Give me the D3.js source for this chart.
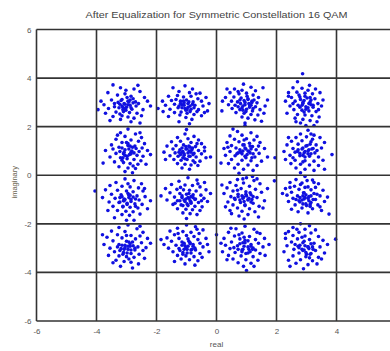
<!DOCTYPE html>
<html>
<head>
<meta charset="utf-8">
<script src="https://cdn.jsdelivr.net/npm/d3@7"></script>
<style>
  body { margin: 0; background: #fff; }
  svg { display: block; font-family: "Liberation Sans", Arial, sans-serif; }
</style>
</head>
<body>
<div id="chart"></div>
<script>
const title = 'After Equalization for Symmetric Constellation 16 QAM';
const gridValues = [-6, -4, -2, 0, 2, 4, 6];
const xTickLabels = [-6, -4, -2, 0, 2, 4];   // the 6 label falls outside the frame
const yTickLabels = [-6, -4, -2, 0, 2, 4, 6];

// received symbols [real, imaginary], grouped by constellation row
const rowTop = [
  [-3.45,3.72],[-3.20,3.60],[-2.75,3.55],[-2.55,3.45],[-3.62,3.40],[-3.30,3.30],[-3.05,3.35],[-2.85,3.25],[-2.40,3.20],[-2.30,3.05],[-3.50,3.10],[-3.15,3.12],[-2.95,3.05],[-2.70,3.02],[-3.75,2.90],[-3.40,2.95],[-3.05,2.92],[-2.88,2.88],[-2.60,2.95],[-2.20,2.85],[-3.95,2.70],[-3.60,2.75],[-3.25,2.78],[-3.00,2.80],[-2.82,2.72],[-2.45,2.70],[-3.70,2.55],[-3.35,2.60],[-3.10,2.62],[-2.90,2.58],[-2.65,2.55],[-3.45,2.42],[-3.15,2.45],[-2.95,2.40],[-2.75,2.35],[-3.55,2.25],[-3.20,2.30],[-2.85,2.20],[-2.55,2.15],[-3.02,3.50],[-2.62,3.70],[-3.85,3.05],[-2.50,2.45],[-3.28,3.00],[-2.78,3.15],[-3.12,2.70],[-2.98,3.20],[-3.40,2.82],[-2.68,2.85],[-3.22,2.52],
  [-3.08,2.95],[-2.92,3.02],[-3.15,2.85],[-2.85,2.78],[-3.02,2.68],[-3.18,3.08],[-2.78,2.98],[-3.05,2.75],[-2.95,2.90],[-3.22,2.92],[-2.88,3.10],[-3.12,2.80],
  [-1.45,3.60],[-1.05,3.68],[-0.80,3.55],[-1.25,3.45],[-0.90,3.40],[-0.55,3.38],[-1.60,3.25],[-1.30,3.28],[-1.10,3.22],[-0.85,3.25],[-0.62,3.15],[-0.35,3.20],[-1.80,3.05],[-1.50,3.08],[-1.20,3.05],[-1.00,3.10],[-0.78,3.02],[-0.50,3.05],[-0.25,2.95],[-1.70,2.88],[-1.40,2.92],[-1.15,2.90],[-0.95,2.95],[-0.72,2.88],[-0.45,2.85],[-1.95,2.75],[-1.55,2.72],[-1.28,2.78],[-1.05,2.75],[-0.85,2.72],[-0.60,2.70],[-0.30,2.65],[-1.40,2.58],[-1.18,2.60],[-0.98,2.55],[-0.75,2.50],[-0.50,2.45],[-1.60,2.42],[-1.02,2.38],[-0.82,2.30],[-1.25,2.20],[-0.90,2.12],[-0.65,2.62],[-1.35,3.12],[-0.88,2.85],[-1.08,2.98],[-0.68,3.35],[-1.22,2.48],[-0.40,2.58],[-1.78,2.62],
  [-1.08,2.88],[-0.92,3.02],[-1.15,2.78],[-0.80,2.92],[-1.02,2.68],[-0.88,2.62],[-1.20,2.95],[-0.95,2.80],[-0.75,2.78],[-1.10,3.05],[-1.25,2.85],[-0.98,2.70],
  [0.90,3.75],[1.15,3.62],[0.60,3.55],[0.85,3.50],[1.30,3.48],[1.55,3.60],[0.45,3.40],[0.75,3.35],[1.00,3.38],[1.22,3.30],[0.30,3.20],[0.58,3.22],[0.82,3.18],[1.05,3.15],[1.40,3.20],[0.20,3.05],[0.50,3.05],[0.70,3.02],[0.95,3.00],[1.18,3.05],[1.35,2.98],[0.18,2.65],[0.40,2.90],[0.62,2.88],[0.88,2.85],[1.10,2.90],[1.30,2.82],[1.62,2.85],[0.52,2.75],[0.78,2.70],[1.00,2.72],[1.20,2.65],[1.45,2.70],[0.65,2.58],[0.92,2.55],[1.15,2.50],[1.38,2.48],[0.85,2.40],[1.05,2.35],[1.28,2.28],[1.50,2.22],[0.95,2.15],[1.70,3.10],[0.35,3.55],[1.10,2.80],[0.72,3.45],[1.25,3.10],[0.80,2.95],[1.58,2.55],[1.02,3.25],
  [0.92,3.08],[1.08,2.95],[0.85,2.78],[1.15,2.88],[0.98,2.62],[0.78,3.10],[1.22,2.75],[0.95,2.90],[1.05,3.12],[0.88,2.68],[1.18,3.00],[0.72,2.82],
  [2.87,4.18],[2.70,3.85],[3.10,3.70],[2.55,3.60],[2.85,3.58],[3.30,3.55],[2.40,3.40],[2.68,3.42],[2.95,3.38],[3.20,3.35],[3.45,3.40],[2.50,3.20],[2.78,3.22],[3.02,3.18],[3.28,3.15],[2.30,3.05],[2.62,3.05],[2.88,3.00],[3.12,3.02],[3.38,2.95],[2.45,2.85],[2.72,2.88],[2.98,2.82],[3.22,2.80],[3.50,2.85],[2.58,2.70],[2.85,2.68],[3.08,2.65],[3.32,2.62],[2.35,2.55],[2.70,2.50],[2.95,2.48],[3.18,2.45],[3.42,2.40],[2.62,2.35],[2.88,2.30],[3.12,2.25],[3.35,2.20],[2.80,2.15],[3.25,2.05],[2.40,3.25],[3.55,3.10],[2.92,2.60],[3.05,3.50],[2.55,2.95],[3.15,2.90],[2.75,3.30],[3.40,2.70],[2.98,2.05],[2.65,2.20],
  [2.92,3.08],[3.08,2.95],[2.85,2.88],[3.15,3.10],[2.98,2.72],[2.80,3.12],[3.22,2.88],[2.95,3.25],[3.05,2.78],[2.88,2.95],[3.12,3.20],[2.78,2.80]
];
const rowUpper = [
  [-2.95,1.90],[-3.20,1.75],[-2.70,1.70],[-3.05,1.60],[-2.50,1.55],[-3.35,1.48],[-2.85,1.45],[-2.60,1.40],[-3.15,1.35],[-2.40,1.30],[-3.50,1.25],[-2.95,1.22],[-2.72,1.20],[-3.25,1.15],[-2.48,1.12],[-3.70,1.02],[-3.05,1.05],[-2.82,1.00],[-2.58,0.98],[-2.30,1.02],[-3.35,0.90],[-3.10,0.88],[-2.90,0.85],[-2.65,0.82],[-2.45,0.78],[-3.55,0.75],[-3.20,0.72],[-2.98,0.68],[-2.75,0.65],[-2.52,0.60],[-3.40,0.55],[-3.10,0.52],[-2.88,0.48],[-2.62,0.45],[-3.25,0.35],[-2.95,0.30],[-2.70,0.28],[-3.05,0.15],[-2.80,0.10],[-2.20,0.85],[-3.78,0.50],[-2.35,0.45],[-3.00,1.35],[-2.55,1.75],[-3.30,1.65],[-2.85,0.95],[-3.15,0.62],[-2.68,1.10],[-3.45,1.08],[-2.78,0.38],
  [-2.92,1.08],[-3.08,0.95],[-2.85,0.88],[-3.15,1.12],[-2.98,0.78],[-2.80,1.15],[-3.22,0.98],[-2.95,1.30],[-3.05,0.82],[-2.88,1.20],[-3.12,0.72],[-2.75,0.92],
  [-1.05,1.70],[-0.75,1.60],[-1.30,1.55],[-0.95,1.50],[-0.60,1.45],[-1.50,1.38],[-1.20,1.40],[-0.85,1.35],[-0.50,1.30],[-1.65,1.20],[-1.35,1.22],[-1.10,1.25],[-0.92,1.20],[-0.70,1.18],[-0.40,1.15],[-1.45,1.08],[-1.22,1.05],[-1.02,1.08],[-0.82,1.05],[-0.60,1.02],[-1.75,0.95],[-1.38,0.92],[-1.15,0.95],[-0.95,0.92],[-0.75,0.90],[-0.50,0.88],[-1.55,0.80],[-1.28,0.78],[-1.08,0.82],[-0.88,0.78],[-0.68,0.75],[-0.35,0.72],[-1.42,0.65],[-1.18,0.62],[-0.98,0.65],[-0.78,0.60],[-0.55,0.58],[-1.30,0.48],[-1.05,0.45],[-0.85,0.42],[-0.62,0.40],[-1.15,0.30],[-0.90,0.25],[-0.20,0.75],[-1.70,0.65],[-1.00,1.88],[-0.65,1.30],[-1.25,0.95],[-0.88,1.15],[-1.12,0.72],[-0.72,0.52],[-0.40,1.00],
  [-0.98,1.08],[-1.08,0.88],[-0.85,0.95],[-1.15,1.12],[-0.92,0.78],[-0.80,1.12],[-1.20,0.85],[-1.02,1.18],[-0.90,1.00],[-1.12,0.98],[-0.78,0.85],[-1.05,0.68],
  [0.95,2.05],[0.70,1.80],[1.15,1.75],[0.45,1.62],[0.85,1.65],[1.35,1.60],[0.60,1.48],[1.00,1.50],[1.25,1.45],[0.35,1.35],[0.75,1.38],[1.10,1.32],[1.45,1.35],[0.50,1.22],[0.88,1.25],[1.20,1.18],[0.25,1.10],[0.65,1.12],[0.98,1.08],[1.32,1.05],[1.60,1.10],[0.45,0.98],[0.80,0.95],[1.12,0.92],[1.42,0.90],[0.30,0.82],[0.62,0.80],[0.95,0.78],[1.28,0.75],[0.50,0.65],[0.85,0.62],[1.15,0.60],[1.50,0.58],[0.40,0.48],[0.72,0.45],[1.05,0.42],[1.35,0.40],[0.60,0.30],[0.90,0.25],[1.22,0.20],[0.15,0.50],[0.75,0.08],[1.70,0.75],[0.55,1.90],[1.05,1.00],[0.92,1.45],[0.68,0.88],[1.18,0.72],[0.38,1.15],[1.40,1.20],
  [0.95,1.12],[1.08,0.98],[0.85,0.88],[1.15,1.08],[0.98,0.72],[0.78,1.05],[1.22,0.88],[0.92,1.25],[1.02,0.85],[0.88,1.00],[1.12,1.20],[0.72,0.92],
  [3.05,1.85],[2.80,1.70],[3.25,1.65],[2.65,1.55],[3.00,1.58],[3.45,1.55],[2.50,1.40],[2.85,1.42],[3.15,1.38],[3.60,1.35],[2.35,1.25],[2.72,1.28],[3.02,1.22],[3.32,1.25],[2.55,1.10],[2.88,1.12],[3.18,1.08],[3.50,1.12],[2.25,0.98],[2.62,0.95],[2.95,0.98],[3.28,0.92],[3.85,0.85],[2.45,0.82],[2.78,0.80],[3.10,0.78],[3.40,0.75],[2.30,0.65],[2.62,0.62],[2.95,0.60],[3.25,0.58],[3.55,0.62],[2.48,0.48],[2.80,0.45],[3.10,0.42],[3.40,0.40],[2.65,0.30],[2.95,0.25],[3.25,0.20],[2.80,0.10],[3.60,0.25],[1.95,0.72],[2.40,1.55],[3.20,1.48],[2.72,1.05],[3.05,0.88],[2.55,0.72],[3.35,1.02],[2.88,0.55],[3.15,1.70],
  [2.92,0.92],[3.08,1.05],[2.85,1.08],[3.15,0.88],[2.98,1.20],[2.78,0.90],[3.22,1.10],[2.95,0.75],[3.05,1.00],[2.88,0.82],[3.12,1.28],[2.70,0.98]
];
const rowLower = [
  [-3.05,-0.15],[-2.75,-0.22],[-3.35,-0.30],[-2.50,-0.35],[-3.55,-0.42],[-3.15,-0.45],[-2.88,-0.48],[-2.60,-0.52],[-3.70,-0.60],[-3.30,-0.62],[-3.00,-0.65],[-2.78,-0.68],[-2.45,-0.65],[-3.50,-0.78],[-3.18,-0.80],[-2.92,-0.82],[-2.65,-0.85],[-2.38,-0.88],[-3.80,-0.92],[-3.38,-0.95],[-3.08,-0.98],[-2.85,-1.00],[-2.58,-1.02],[-3.58,-1.10],[-3.25,-1.12],[-2.98,-1.15],[-2.72,-1.18],[-2.48,-1.20],[-3.45,-1.28],[-3.12,-1.30],[-2.88,-1.32],[-2.62,-1.35],[-2.30,-1.38],[-3.30,-1.45],[-3.02,-1.48],[-2.78,-1.50],[-3.15,-1.62],[-2.90,-1.65],[-2.55,-1.60],[-3.40,-1.75],[-2.75,-1.85],[-4.05,-0.65],[-2.20,-1.05],[-3.62,-1.45],[-2.95,-0.35],[-3.22,-0.92],[-2.70,-1.28],[-3.10,-1.05],[-2.40,-0.55],[-3.00,-1.85],
  [-2.92,-0.92],[-3.08,-1.05],[-2.85,-1.08],[-3.15,-0.88],[-2.98,-1.20],[-2.78,-0.90],[-3.22,-1.10],[-2.95,-0.75],[-3.05,-1.00],[-2.88,-0.82],[-3.12,-1.28],[-2.70,-0.98],
  [-0.95,-0.10],[-0.65,-0.20],[-1.25,-0.25],[-0.40,-0.30],[-1.50,-0.38],[-1.05,-0.40],[-0.80,-0.42],[-0.55,-0.48],[-1.70,-0.55],[-1.32,-0.58],[-1.10,-0.60],[-0.90,-0.62],[-0.68,-0.65],[-0.35,-0.60],[-1.55,-0.72],[-1.22,-0.75],[-1.00,-0.78],[-0.78,-0.80],[-0.52,-0.82],[-1.40,-0.90],[-1.15,-0.92],[-0.92,-0.95],[-0.70,-0.98],[-0.42,-0.95],[-1.65,-1.02],[-1.30,-1.05],[-1.05,-1.08],[-0.85,-1.10],[-0.60,-1.12],[-0.30,-1.08],[-1.45,-1.20],[-1.18,-1.22],[-0.95,-1.25],[-0.72,-1.28],[-0.48,-1.30],[-1.30,-1.38],[-1.02,-1.40],[-0.80,-1.42],[-0.55,-1.45],[-1.12,-1.55],[-0.88,-1.58],[-0.65,-1.62],[-0.20,-0.75],[-1.85,-0.85],[-1.00,-1.78],[-0.62,-0.35],[-1.20,-0.50],[-0.85,-0.88],[-1.38,-1.15],[-0.50,-1.05],
  [-0.95,-0.92],[-1.08,-1.02],[-0.85,-1.15],[-1.15,-0.85],[-0.98,-1.18],[-0.78,-0.92],[-1.22,-1.05],[-0.92,-0.75],[-1.02,-0.98],[-0.88,-1.05],[-1.12,-1.25],[-0.72,-1.00],
  [1.00,-0.10],[0.70,-0.18],[1.25,-0.22],[0.45,-0.30],[0.90,-0.32],[1.45,-0.35],[0.65,-0.42],[1.10,-0.45],[0.35,-0.52],[0.82,-0.55],[1.30,-0.58],[0.55,-0.65],[0.98,-0.68],[1.50,-0.70],[0.25,-0.75],[0.72,-0.78],[1.15,-0.80],[0.48,-0.88],[0.90,-0.90],[1.35,-0.92],[0.62,-1.00],[1.05,-1.02],[1.60,-1.05],[0.38,-1.10],[0.80,-1.12],[1.22,-1.15],[0.55,-1.22],[0.95,-1.25],[1.42,-1.28],[0.70,-1.35],[1.10,-1.38],[0.45,-1.45],[0.85,-1.48],[1.28,-1.50],[1.05,-1.62],[0.75,-1.68],[1.40,-1.72],[0.92,-1.80],[0.18,-0.40],[1.70,-0.55],[1.20,-0.05],[0.60,-0.95],[1.00,-0.85],[0.30,-1.30],[1.55,-1.35],[0.88,-0.15],[0.70,-0.62],[1.18,-1.00],[0.50,-1.58],[1.35,-0.15],[1.93,-0.23],
  [0.92,-1.08],[1.08,-0.95],[0.85,-0.85],[1.15,-1.10],[0.98,-0.78],[0.78,-1.02],[1.22,-0.88],[0.95,-1.22],[1.05,-1.00],[0.88,-0.95],[1.12,-0.72],[0.72,-0.88],
  [2.95,-0.05],[2.65,-0.18],[3.20,-0.20],[2.45,-0.30],[2.85,-0.32],[3.40,-0.35],[2.60,-0.45],[3.05,-0.48],[3.30,-0.50],[2.30,-0.55],[2.75,-0.58],[3.15,-0.60],[3.55,-0.62],[2.50,-0.70],[2.90,-0.72],[3.25,-0.75],[2.35,-0.82],[2.70,-0.85],[3.08,-0.88],[3.45,-0.85],[2.55,-0.95],[2.92,-0.98],[3.30,-1.00],[2.40,-1.08],[2.78,-1.10],[3.15,-1.12],[3.60,-1.08],[2.62,-1.22],[3.00,-1.25],[3.38,-1.22],[2.85,-1.35],[3.20,-1.38],[2.50,-1.40],[3.50,-1.45],[2.72,-1.50],[3.05,-1.55],[3.75,-1.60],[2.95,-0.50],[2.20,-0.75],[3.70,-0.90],[2.80,-0.38],[3.35,-0.78],[2.65,-1.00],[3.12,-1.28],[2.45,-0.50],[2.98,-0.80],[3.25,-0.30],[2.88,-1.18],[3.45,-1.30],[3.02,-0.22],
  [2.95,-0.92],[3.08,-1.05],[2.85,-1.02],[3.15,-0.85],[2.98,-1.18],[2.78,-0.92],[3.22,-1.00],[2.92,-0.72],[3.05,-0.95],[2.88,-0.85],[3.12,-1.20],[2.75,-1.05]
];
const rowBottom = [
  [-2.95,-2.05],[-3.25,-2.15],[-2.65,-2.20],[-3.50,-2.30],[-3.05,-2.32],[-2.45,-2.35],[-3.30,-2.45],[-2.85,-2.48],[-2.55,-2.50],[-3.65,-2.55],[-3.15,-2.58],[-2.70,-2.62],[-2.30,-2.60],[-3.45,-2.70],[-3.00,-2.72],[-2.80,-2.75],[-2.50,-2.78],[-3.75,-2.85],[-3.25,-2.85],[-3.05,-2.88],[-2.88,-2.92],[-2.62,-2.95],[-2.35,-2.98],[-3.55,-3.00],[-3.18,-3.02],[-2.95,-3.05],[-2.72,-3.08],[-2.45,-3.10],[-3.40,-3.15],[-3.10,-3.18],[-2.85,-3.22],[-2.58,-3.25],[-3.60,-3.30],[-3.25,-3.32],[-3.00,-3.35],[-2.75,-3.38],[-2.40,-3.42],[-3.35,-3.50],[-3.08,-3.55],[-2.85,-3.58],[-2.60,-3.65],[-3.20,-3.75],[-2.80,-3.82],[-3.80,-2.45],[-2.20,-2.80],[-3.00,-2.48],[-3.30,-2.95],[-2.92,-3.45],[-2.55,-2.10],[-3.45,-3.60],
  [-2.95,-2.92],[-3.08,-3.05],[-2.85,-3.08],[-3.15,-2.88],[-2.98,-3.20],[-2.78,-2.90],[-3.22,-3.10],[-2.92,-2.75],[-3.05,-2.98],[-2.88,-2.82],[-3.12,-3.25],[-2.72,-3.00],
  [-1.00,-2.05],[-0.70,-2.12],[-1.30,-2.18],[-0.45,-2.25],[-1.55,-2.30],[-1.12,-2.32],[-0.85,-2.35],[-0.58,-2.40],[-1.40,-2.45],[-1.00,-2.48],[-0.75,-2.52],[-1.65,-2.58],[-1.25,-2.60],[-0.95,-2.62],[-0.62,-2.65],[-0.35,-2.60],[-1.50,-2.72],[-1.15,-2.75],[-0.88,-2.78],[-0.55,-2.80],[-1.75,-2.85],[-1.35,-2.88],[-1.05,-2.90],[-0.78,-2.92],[-0.45,-2.95],[-1.60,-3.00],[-1.25,-3.02],[-0.98,-3.05],[-0.70,-3.08],[-1.45,-3.15],[-1.12,-3.18],[-0.85,-3.20],[-0.55,-3.22],[-0.25,-3.15],[-1.30,-3.30],[-1.02,-3.32],[-0.75,-3.35],[-0.48,-3.38],[-1.18,-3.45],[-0.90,-3.48],[-0.62,-3.52],[-1.05,-3.65],[-0.72,-3.70],[-0.30,-2.85],[-1.85,-2.65],[-1.40,-3.55],[-0.65,-2.22],[-1.08,-2.80],[-0.82,-3.05],[-1.28,-2.40],
  [-0.95,-2.92],[-1.08,-3.05],[-0.85,-3.08],[-1.15,-2.88],[-0.98,-3.20],[-0.78,-2.85],[-1.22,-3.10],[-0.92,-2.72],[-1.02,-2.98],[-0.88,-2.82],[-1.12,-3.25],[-0.72,-3.00],
  [0.95,-2.10],[0.65,-2.20],[1.25,-2.22],[0.40,-2.35],[0.85,-2.38],[1.45,-2.40],[0.60,-2.50],[1.10,-2.52],[0.25,-2.60],[0.78,-2.62],[1.30,-2.65],[1.60,-2.60],[0.50,-2.75],[0.95,-2.78],[1.40,-2.80],[0.30,-2.88],[0.70,-2.90],[1.15,-2.92],[1.55,-2.95],[0.45,-3.02],[0.88,-3.05],[1.30,-3.08],[0.20,-3.15],[0.62,-3.18],[1.05,-3.20],[1.45,-3.22],[0.40,-3.30],[0.82,-3.32],[1.22,-3.35],[0.55,-3.45],[0.98,-3.48],[1.38,-3.50],[0.72,-3.60],[1.15,-3.62],[0.90,-3.75],[0.00,-2.45],[1.75,-2.85],[0.75,-2.45],[1.05,-2.70],[0.58,-2.98],[1.20,-3.05],[0.35,-3.48],[1.62,-3.30],[0.85,-3.15],[0.15,-2.80],[1.00,-3.92],[1.35,-2.35],[0.48,-2.18],[1.25,-3.75],[0.92,-2.55],
  [0.92,-2.92],[1.08,-3.05],[0.85,-3.08],[1.15,-2.85],[0.98,-3.22],[0.78,-2.82],[1.22,-3.00],[0.95,-2.68],[1.05,-2.95],[0.88,-2.78],[1.12,-3.15],[0.72,-3.05],
  [2.80,-2.00],[3.10,-2.08],[2.55,-2.15],[2.95,-2.22],[3.30,-2.25],[2.40,-2.32],[2.75,-2.35],[3.15,-2.38],[2.55,-2.48],[2.95,-2.50],[3.40,-2.52],[3.97,-2.63],[2.30,-2.60],[2.70,-2.62],[3.10,-2.65],[3.55,-2.68],[2.50,-2.75],[2.88,-2.78],[3.25,-2.80],[2.35,-2.90],[2.72,-2.92],[3.05,-2.95],[3.45,-2.95],[2.58,-3.05],[2.92,-3.08],[3.30,-3.10],[2.25,-3.15],[2.75,-3.20],[3.15,-3.22],[3.60,-3.20],[2.55,-3.32],[2.98,-3.35],[3.40,-3.38],[2.40,-3.50],[2.80,-3.48],[3.20,-3.52],[2.65,-3.62],[3.05,-3.68],[2.30,-2.40],[3.50,-3.45],[2.85,-2.55],[3.20,-2.95],[2.62,-2.85],[3.00,-3.25],[2.45,-3.75],[3.35,-3.65],[2.90,-3.85],[3.70,-2.85],[2.68,-2.22],[3.10,-3.40],
  [2.95,-2.90],[3.08,-3.02],[2.85,-3.05],[3.15,-2.82],[2.98,-3.18],[2.78,-2.88],[3.22,-3.05],[2.92,-2.72],[3.05,-2.95],[2.88,-3.10],[3.12,-3.25],[2.75,-2.98]
];

const width = 390, height = 351;
const margin = { top: 29.5, left: 36.5 };
const plotW = 360, plotH = 291.5;

const svg = d3.select('#chart').append('svg')
  .attr('width', width)
  .attr('height', height);

const x = d3.scaleLinear().domain([-6, 6]).range([margin.left, margin.left + plotW]);
const y = d3.scaleLinear().domain([-6, 6]).range([margin.top + plotH, margin.top]);

const points = [...rowTop, ...rowUpper, ...rowLower, ...rowBottom];

svg.append('g')
  .selectAll('circle')
  .data(points)
  .join('circle')
  .attr('cx', d => x(d[0]))
  .attr('cy', d => y(d[1]))
  .attr('r', 1.8)
  .attr('fill', '#1010e0');

// grid, drawn on top of the points like the original
const grid = svg.append('g').attr('stroke', '#333').attr('stroke-width', 1.6);
grid.selectAll('.vx')
  .data(gridValues)
  .join('line')
  .attr('x1', d => x(d)).attr('x2', d => x(d))
  .attr('y1', y(-6)).attr('y2', y(6));
grid.selectAll('.hy')
  .data(gridValues)
  .join('line')
  .attr('x1', x(-6)).attr('x2', x(6))
  .attr('y1', d => y(d)).attr('y2', d => y(d));

// axes: labels only, the grid carries the lines
const xAxis = svg.append('g')
  .attr('transform', `translate(0,${y(-6)})`)
  .call(d3.axisBottom(x).tickValues(xTickLabels).tickSize(0).tickPadding(7));
const yAxis = svg.append('g')
  .attr('transform', `translate(${x(-6)},0)`)
  .call(d3.axisLeft(y).tickValues(yTickLabels).tickSize(0).tickPadding(5));
[xAxis, yAxis].forEach(a => {
  a.select('.domain').remove();
  a.selectAll('text')
    .attr('font-size', '8px')
    .attr('font-family', '"Liberation Sans", Arial, sans-serif')
    .attr('fill', '#555')
    .text(d => d < 0 ? '-' + Math.abs(d) : d);
});

svg.append('text')
  .attr('x', x(0))
  .attr('y', 18)
  .attr('text-anchor', 'middle')
  .attr('font-size', '9px')
  .attr('textLength', 262)
  .attr('lengthAdjust', 'spacingAndGlyphs')
  .attr('fill', '#444')
  .text(title);

svg.append('text')
  .attr('x', x(0))
  .attr('y', 347)
  .attr('text-anchor', 'middle')
  .attr('font-size', '8px')
  .attr('fill', '#555')
  .text('real');

svg.append('text')
  .attr('transform', `translate(17,${y(0) + 7}) rotate(-90)`)
  .attr('text-anchor', 'middle')
  .attr('font-size', '7.5px')
  .attr('fill', '#6a6450')
  .text('imaginary');
</script>
</body>
</html>
